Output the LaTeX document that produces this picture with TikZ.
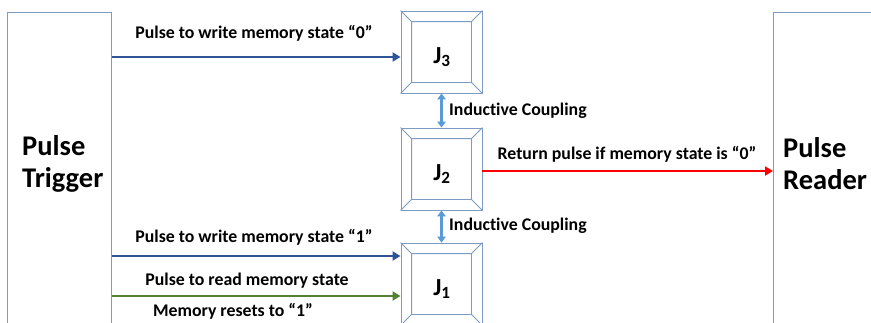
\documentclass[tikz,border=0pt]{standalone}
\usepackage{fontspec}
\setmainfont{Carlito}[Ligatures={NoCommon}]
\usetikzlibrary{arrows.meta}
\definecolor{frame}{RGB}{125,155,195}
\definecolor{writeblue}{RGB}{47,85,151}
\definecolor{readgreen}{RGB}{84,130,53}
\definecolor{couple}{RGB}{91,155,213}
\tikzset{
  panel/.style={draw=frame, line width=0.9pt, fill=white, anchor=north west, inner sep=0pt},
  jbox/.style={draw=frame, line width=0.9pt, fill=white, minimum width=81pt, minimum height=82pt, inner sep=0pt},
  jtxt/.style={font=\bfseries\fontsize{24.5}{28}\selectfont, inner sep=0pt},
  bigtxt/.style={font=\bfseries\fontsize{28.5}{32}\selectfont, align=left, anchor=west, inner sep=0pt},
  lbl/.style={font=\bfseries\fontsize{17.8}{20}\selectfont, inner sep=0pt},
  pulse/.style={line width=2.7pt, -{Triangle[length=8pt,width=9pt]}},
  coupling/.style={couple, line width=2.5pt, {Triangle[length=6pt,width=8.5pt]}-{Triangle[length=6pt,width=8.5pt]}},
}
% bevelled frame: inner square plus corner diagonals
\newcommand\bevelframe[1]{%
  \draw[frame, line width=0.9pt]
    ([xshift=11pt,yshift=-11pt]#1.north west) rectangle ([xshift=-11pt,yshift=11pt]#1.south east)
    (#1.north west) -- ([xshift=11pt,yshift=-11pt]#1.north west)
    (#1.north east) -- ([xshift=-11pt,yshift=-11pt]#1.north east)
    (#1.south west) -- ([xshift=11pt,yshift=11pt]#1.south west)
    (#1.south east) -- ([xshift=-11pt,yshift=11pt]#1.south east);}
\begin{document}
\begin{tikzpicture}[x=1pt,y=-1pt]
\useasboundingbox (0,0) rectangle (871,322);
\clip (0,0) rectangle (871,322);

% side panels
\node[panel, minimum width=104pt, minimum height=330pt] (trig) at (7,12) {};
\node[panel, minimum width=110pt, minimum height=330pt] (read) at (773,12) {};
\node[bigtxt] (trigtxt) at (22,164) {Pulse\\Trigger};
\node[bigtxt] (readtxt) at (783,164) {Pulse\\Reader};

% junctions
\node[jbox] (j3) at (441.5,52) {};
\bevelframe{j3}
\node[jtxt] (j3t) at (442,57) {J\textsubscript{3}};
\node[jbox] (j2) at (441.5,169) {};
\bevelframe{j2}
\node[jtxt] (j2t) at (442,174) {J\textsubscript{2}};
\node[jbox] (j1) at (441.5,284) {};
\bevelframe{j1}
\node[jtxt] (j1t) at (442,289) {J\textsubscript{1}};

% inductive coupling
\draw[coupling] (j3.south) -- (j2.north);
\draw[coupling] (j2.south) -- (j1.north);
\node[lbl, anchor=west] (c32) at (449,111) {Inductive Coupling};
\node[lbl, anchor=west] (c21) at (449,226) {Inductive Coupling};

% input pulses
\coordinate (in3) at (j3.west |- 0,57);
\coordinate (in1a) at (j1.west |- 0,256);
\coordinate (in1b) at (j1.west |- 0,296);
\draw[pulse, writeblue] (trig.east |- in3) -- (in3);
\draw[pulse, writeblue] (trig.east |- in1a) -- (in1a);
\draw[pulse, readgreen] (trig.east |- in1b) -- (in1b);
\node[lbl] (w0) at (254,33) {Pulse to write memory state “0”};
\node[lbl] (w1) at (254,237) {Pulse to write memory state “1”};
\node[lbl] (rd) at (247,281) {Pulse to read memory state};
\node[lbl] (rs) at (233,311) {Memory resets to “1”};

% return pulse
\coordinate (out2) at (j2.east |- 0,171);
\draw[pulse, red] (out2) -- (read.west |- out2);
\node[lbl] (ret) at (627,154) {Return pulse if memory state is “0”};
\end{tikzpicture}
\end{document}
